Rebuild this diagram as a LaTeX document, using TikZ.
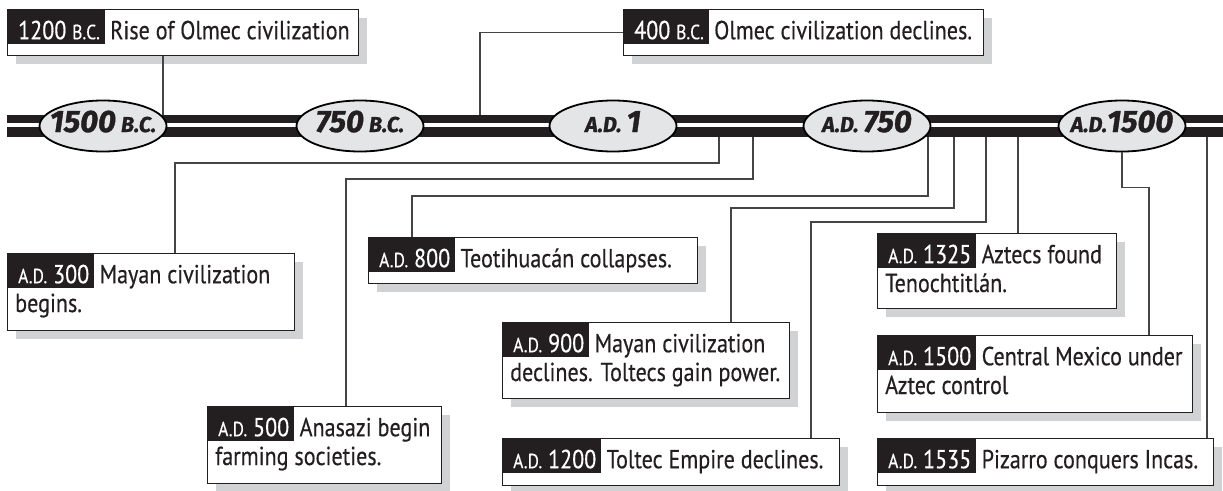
\documentclass[tikz,border=0pt]{standalone}
\usepackage{fontspec}
\setmainfont[FakeStretch=0.85,FakeBold=0.4]{PT Sans}
\newfontfamily\ovalfont[BoldItalicFeatures={FakeBold=1.2}]{Fira Sans}
\usetikzlibrary{shapes.geometric,shadows}

\definecolor{ink}{HTML}{231F20}
\definecolor{shade}{HTML}{D1D2D4}
\definecolor{ovalfill}{HTML}{E4E5E6}
\definecolor{linkgray}{HTML}{454545}

% text sizes
\newcommand{\evsize}{\fontsize{26}{29}\selectfont}
\newcommand{\tagsc}[1]{{\fontsize{20.5}{22}\selectfont #1}}
\newcommand{\ovalsc}[1]{{\fontsize{21.5}{23}\selectfont #1}}
% oval label of zero width, so the oval keeps its own size
\newcommand{\eralabel}[1]{\makebox[0pt][c]{#1}}

\tikzset{
  evbox/.style={draw=ink, line width=1.3pt, fill=white, anchor=north west, inner sep=0pt,
    drop shadow={shadow xshift=8pt, shadow yshift=-8pt, fill=shade, opacity=1}},
  datetag/.style={fill=ink, text=white, anchor=north west, inner xsep=0pt, inner ysep=0pt,
    text height=30pt, text depth=5pt, font=\evsize,
    execute at begin node=\kern11pt, execute at end node=\kern5pt},
  evtext/.style={text=ink, inner sep=0pt, font=\evsize, anchor=base west},
  era/.style={ellipse, draw=black, line width=1.8pt, fill=ovalfill, minimum width=127pt,
    minimum height=51pt, inner sep=0pt, text=ink, text height=12pt, text depth=0pt,
    font=\ovalfont\bfseries\itshape\fontsize{31}{32}\selectfont},
  link/.style={draw=linkgray, line width=1.3pt}
}

% \evt{name}{x}{y}{width}{height}{date}{first line}{second line}
\newcommand{\evt}[8]{%
  \node[evbox, minimum width=#4pt, minimum height=#5pt] (#1) at (#2,#3) {};
  \node[datetag] (#1-tag) at (#1.north west) {#6};
  \node[evtext] (#1-a) at ([xshift=5pt]#1-tag.base east) {#7};
  \if\relax\detokenize{#8}\relax\else
    \node[evtext] (#1-b) at ([xshift=8pt,yshift=-59pt]#1.north west) {#8};
  \fi
}

\begin{document}
\begin{tikzpicture}[x=1pt,y=-1pt]
\useasboundingbox (0,0) rectangle (1223,490);

% timeline bar
\node[fill=ink, inner sep=0pt, minimum width=1216pt, minimum height=22pt, anchor=west] (bar) at (7,126) {};
\fill[white] (7,123.3) rectangle (1223,127.4);

% era ovals
\node[era] (o1500bc) at (103,126) {\eralabel{1500\,\ovalsc{B.C.}}};
\node[era] (o750bc)  at (360,126) {\eralabel{750\,\ovalsc{B.C.}}};
\node[era] (o1ad)    at (613,126) {\eralabel{\ovalsc{A.D.}\,1}};
\node[era] (o750ad)  at (867,126) {\eralabel{\ovalsc{A.D.}\,750}};
\node[era] (o1500ad) at (1122,126) {\eralabel{\ovalsc{A.D.}1500}};

% points on the bar where events attach
\coordinate (t1200bc) at (163,115);
\coordinate (t400bc)  at (480,115);
\coordinate (t300)  at (719,137);
\coordinate (t500)  at (753,137);
\coordinate (t800)  at (928,137);
\coordinate (t900)  at (954,137);
\coordinate (t1200) at (986,137);
\coordinate (t1325) at (1018,137);
\coordinate (t1535) at (1207,137);

% event boxes
\evt{e1200bc}{7}{9}{351}{46}{1200 \tagsc{B.C.}}{Rise of Olmec civilization}{}
\evt{e400bc}{623}{9}{360}{46}{400 \tagsc{B.C.}}{Olmec civilization declines.}{}
\evt{e300}{7}{253}{287}{77}{\tagsc{A.D.} 300}{Mayan civilization}{begins.}
\evt{e500}{207}{406}{234}{77}{\tagsc{A.D.} 500}{Anasazi begin}{farming societies.}
\evt{e800}{368}{237}{329}{46}{\tagsc{A.D.} 800}{Teotihuacán collapses.}{}
\evt{e900}{502}{322}{287}{76}{\tagsc{A.D.} 900}{Mayan civilization}{declines. Toltecs gain power.}
\evt{e1200}{502}{438}{337}{47}{\tagsc{A.D.} 1200}{Toltec Empire declines.}{}
\evt{e1325}{877}{233}{239}{75}{\tagsc{A.D.} 1325}{Aztecs found}{Tenochtitlán.}
\evt{e1500}{877}{335}{315}{77}{\tagsc{A.D.} 1500}{Central Mexico under}{Aztec control}
\evt{e1535}{877}{438}{336}{47}{\tagsc{A.D.} 1535}{Pizarro conquers Incas.}{}

% connectors
\draw[link] (e1200bc.south -| t1200bc) -- (t1200bc);
\draw[link] (e400bc.west) -| (t400bc);
\draw[link] (t300) -- ++(0,26) -| ([xshift=168pt]e300.north west);
\draw[link] (t500) -- ++(0,42) -| ([xshift=139pt]e500.north west);
\draw[link] (t800) -- ++(0,59) -| ([xshift=44pt]e800.north west);
\draw[link] (t900) -- ++(0,71) -| ([xshift=229pt]e900.north west);
\draw[link] (t1200) -- ++(0,85) -| ([xshift=309pt]e1200.north west);
\draw[link] (t1325) -- (e1325.north -| t1325);
\draw[link] (o1500ad.south) -- ++(0,35) -| ([xshift=272pt]e1500.north west);
\draw[link] (t1535) -- (e1535.north -| t1535);
\end{tikzpicture}
\end{document}
